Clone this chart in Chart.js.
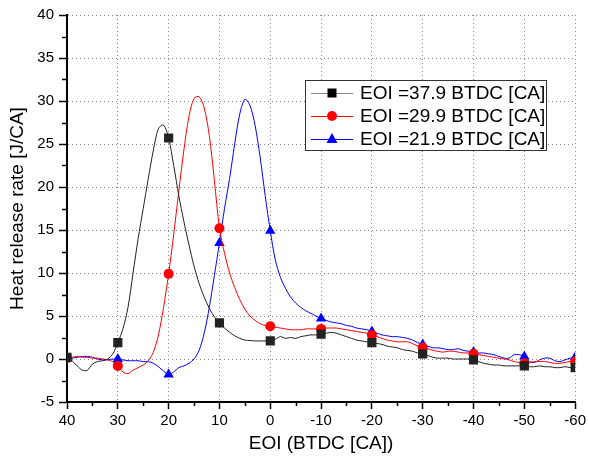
<!DOCTYPE html>
<html>
<head>
<meta charset="utf-8">
<script src="https://cdn.jsdelivr.net/npm/chart.js@4/dist/chart.umd.min.js"></script>
<style>
  body { margin: 0; background: #fff; }
  #wrap { width: 589px; height: 467px; }
</style>
</head>
<body>
<div id="wrap"><canvas id="hrrChart" width="589" height="467"></canvas></div>
<script>
// crank angle (BTDC, CA) from 40 down to -60
const crankAngle = [];
for (let a = 40; a >= -60; a--) crankAngle.push(a);

const seriesLabels = ['EOI =37.9 BTDC [CA]', 'EOI =29.9 BTDC [CA]', 'EOI =21.9 BTDC [CA]'];

// heat release rate [J/CA], one value per degree
const hrrEoi379 = [
  0.2, -0.2, -0.8, -1.3, -1.3, -0.6, -0.3, -0.2, 0.0, 0.6,
  1.9, 3.5, 6.0, 10.0, 14.0, 17.5, 21.0, 24.3, 26.8, 27.2,
  25.7, 22.5, 19.0, 16.0, 13.3, 10.8, 8.8, 7.2, 5.9, 4.9,
  4.2, 3.6, 3.1, 2.7, 2.4, 2.2, 2.15, 2.1, 2.1, 2.1,
  2.1, 2.3, 2.6, 2.4, 2.5, 2.4, 2.6, 2.7, 2.8, 2.8,
  2.9, 3.0, 3.1, 3.0, 2.8, 2.6, 2.4, 2.2, 2.1, 2.0,
  1.9, 1.8, 1.7, 1.5, 1.4, 1.3, 1.1, 1.0, 0.9, 0.7,
  0.6, 0.4, 0.2, 0.1, 0.1, 0.1, 0.0, 0.0, 0.0, 0.0,
  -0.1, -0.3, -0.5, -0.6, -0.7, -0.7, -0.8, -0.8, -0.8, -0.8,
  -0.8, -0.9, -0.9, -0.8, -0.9, -0.9, -1.0, -1.0, -0.9, -1.0,
  -1.0
];
const hrrEoi299 = [
  0.1, 0.2, 0.3, 0.2, 0.2, 0.1, 0.1, 0.0, -0.1, -0.3,
  -0.8, -1.5, -1.7, -1.3, -1.0, -0.7, -0.2, 0.8, 2.8, 6.0,
  9.9, 14.5, 19.5, 24.3, 28.2, 30.3, 30.5, 29.2, 26.0, 20.8,
  15.2, 12.3, 10.0, 8.3, 6.9, 5.8, 5.0, 4.5, 4.1, 3.9,
  3.8, 3.7, 3.6, 3.5, 3.4, 3.4, 3.4, 3.5, 3.5, 3.5,
  3.5, 3.6, 3.6, 3.6, 3.5, 3.4, 3.3, 3.2, 3.1, 3.0,
  2.8, 2.6, 2.4, 2.2, 2.1, 2.0, 2.0, 2.0, 1.8, 1.5,
  1.3, 1.2, 1.0, 0.9, 0.8, 0.9, 0.9, 0.8, 0.7, 0.7,
  0.6, 0.5, 0.4, 0.3, 0.2, 0.1, 0.0, -0.1, -0.3, -0.4,
  -0.5, -0.4, -0.3, -0.3, -0.3, -0.4, -0.5, -0.5, -0.4, -0.3,
  -0.3
];
const hrrEoi219 = [
  0.1, 0.1, 0.2, 0.3, 0.3, 0.2, 0.0, -0.1, -0.1, 0.0,
  0.0, -0.1, -0.2, -0.2, -0.2, -0.3, -0.3, -0.5, -0.9, -1.4,
  -1.8, -1.5, -1.0, -0.8, -0.5, 0.0, 1.0, 3.0, 6.0, 9.7,
  13.5, 17.5, 21.0, 25.0, 28.5, 30.2, 29.5, 27.2, 23.5, 19.0,
  14.9, 11.5, 9.5, 8.2, 7.2, 6.5, 6.0, 5.6, 5.3, 5.0,
  4.7, 4.5, 4.3, 4.2, 4.1, 3.9, 3.8, 3.6, 3.5, 3.4,
  3.2, 3.0, 2.8, 2.7, 2.6, 2.6, 2.5, 2.4, 2.2, 1.9,
  1.7, 1.5, 1.3, 1.3, 1.2, 1.1, 1.1, 1.2, 1.0, 0.9,
  0.8, 0.7, 0.7, 0.6, 0.5, 0.3, 0.1, 0.1, 0.5, 0.5,
  0.3, -0.3, -0.4, -0.1, 0.1, 0.1, -0.2, -0.3, -0.1, 0.1,
  0.2
];

const seriesColors = ['#222222', '#ff0000', '#0000ff'];
const markerStyles = ['rect', 'circle', 'triangle'];
const markerRadius = [6.5, 5, 6];

const FONT = 'Arial, "Liberation Sans", sans-serif';

function makeDataset(i, values) {
  return {
    label: seriesLabels[i],
    data: crankAngle.map((a, k) => ({ x: a, y: values[k] })),
    borderColor: seriesColors[i],
    backgroundColor: seriesColors[i],
    borderWidth: 1,
    tension: 0.3,
    pointStyle: markerStyles[i],
    pointBorderWidth: 0,
    // markers only every 10 degrees
    pointRadius: ctx => (crankAngle[ctx.dataIndex] % 10 === 0 ? markerRadius[i] : 0)
  };
}

// minor ticks + boxed legend inside the plot
const extrasPlugin = {
  id: 'extras',
  afterDraw(chart) {
    const ctx = chart.ctx;
    const xs = chart.scales.x, ys = chart.scales.y;
    const area = chart.chartArea;
    ctx.save();
    ctx.strokeStyle = '#000';
    ctx.lineWidth = 1.5;
    ctx.beginPath();
    for (let v = 35; v > -60; v -= 10) {
      const px = Math.round(xs.getPixelForValue(v)) + 0.5;
      ctx.moveTo(px, area.bottom);
      ctx.lineTo(px, area.bottom + 4);
    }
    for (let v = -2.5; v < 40; v += 5) {
      const py = Math.round(ys.getPixelForValue(v)) + 0.5;
      ctx.moveTo(area.left, py);
      ctx.lineTo(area.left - 5, py);
    }
    ctx.stroke();

    // legend box
    const bx = 305, by = 80, bw = 241, bh = 70;
    ctx.fillStyle = '#fff';
    ctx.fillRect(bx, by, bw, bh);
    ctx.strokeStyle = '#333';
    ctx.lineWidth = 1;
    ctx.strokeRect(bx + 0.5, by + 0.5, bw, bh);
    ctx.font = '19px ' + FONT;
    ctx.textBaseline = 'middle';
    ctx.textAlign = 'left';
    seriesLabels.forEach((label, i) => {
      const y = by + 13 + i * 23;
      ctx.strokeStyle = i === 0 ? '#888' : seriesColors[i];
      ctx.beginPath();
      ctx.moveTo(bx + 6, y + 0.5);
      ctx.lineTo(bx + 48, y + 0.5);
      ctx.stroke();
      ctx.fillStyle = i === 0 ? '#000' : seriesColors[i];
      const cx = bx + 27;
      ctx.beginPath();
      if (i === 0) {
        ctx.rect(cx - 4.5, y - 4.5, 9, 9);
      } else if (i === 1) {
        ctx.arc(cx, y, 5, 0, Math.PI * 2);
      } else {
        ctx.moveTo(cx, y - 6);
        ctx.lineTo(cx + 5.5, y + 4);
        ctx.lineTo(cx - 5.5, y + 4);
        ctx.closePath();
      }
      ctx.fill();
      ctx.fillStyle = '#000';
      ctx.fillText(label, bx + 55, y + 1);
    });
    ctx.restore();
  }
};

const ctx = document.getElementById('hrrChart').getContext('2d');
new Chart(ctx, {
  type: 'line',
  data: {
    datasets: [
      makeDataset(0, hrrEoi379),
      makeDataset(1, hrrEoi299),
      makeDataset(2, hrrEoi219)
    ]
  },
  options: {
    responsive: false,
    animation: false,
    layout: { padding: { top: 15, right: 12, left: 0, bottom: 0 } },
    plugins: {
      legend: { display: false },
      tooltip: { enabled: false }
    },
    scales: {
      x: {
        type: 'linear',
        reverse: true,
        min: -60,
        max: 40,
        afterFit: scale => { scale.height = 65; },
        ticks: { stepSize: 10, color: '#000', font: { family: FONT, size: 15 }, padding: 3, maxRotation: 0 },
        grid: { color: '#888', lineWidth: 1, tickColor: '#000', tickWidth: 1.5, tickLength: 7 },
        border: { display: true, color: '#000', width: 2, dash: [1, 3] },
        title: { display: true, text: 'EOI (BTDC [CA])', color: '#000', font: { family: FONT, size: 19 }, padding: { top: 0, bottom: 12 } }
      },
      y: {
        min: -5,
        max: 40,
        afterFit: scale => { scale.width = 67; },
        ticks: { stepSize: 5, color: '#000', font: { family: FONT, size: 15 }, padding: 5 },
        grid: { color: '#888', lineWidth: 1, tickColor: '#000', tickWidth: 1.5, tickLength: 8 },
        border: { display: true, color: '#000', width: 2, dash: [1, 3] },
        title: { display: true, text: 'Heat release rate [J/CA]', color: '#000', font: { family: FONT, size: 19 }, padding: { top: 6, bottom: 0 } }
      }
    }
  },
  plugins: [extrasPlugin]
});
</script>
</body>
</html>
